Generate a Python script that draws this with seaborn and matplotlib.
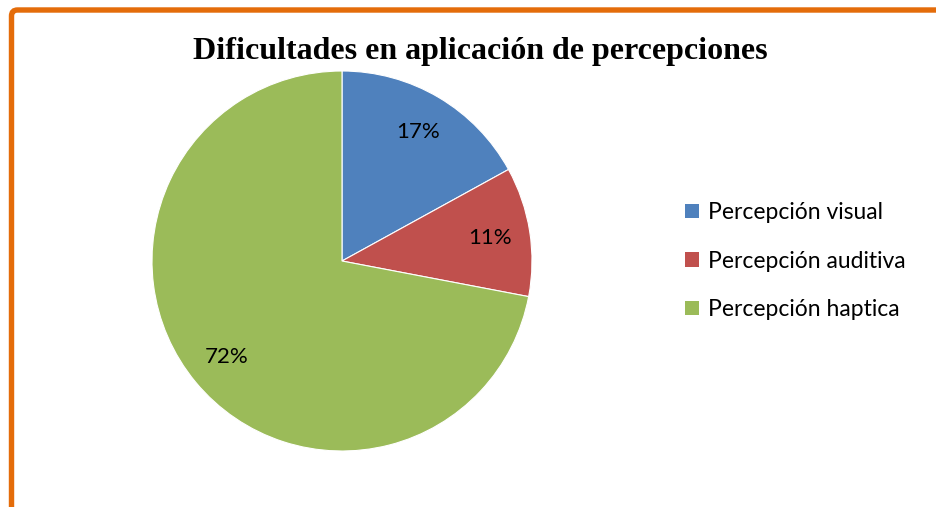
import matplotlib
matplotlib.use("Agg")
import matplotlib.pyplot as plt
import matplotlib.patches as mpatches
import seaborn as sns

categories = ["Percepción visual", "Percepción auditiva", "Percepción haptica"]
values = [17, 11, 72]
colors = ["#4F81BD", "#C0504D", "#9BBB59"]
title = "Dificultades en aplicación de percepciones"

sns.set_theme(style="white")
plt.rcParams['font.family'] = ['Lato', 'DejaVu Sans']
plt.rcParams['text.color'] = 'black'

W, H = 937, 507
fig = plt.figure(figsize=(W / 100, H / 100), dpi=100)
fig.patch.set_facecolor("white")

# pie axes: center (342,261), radius 190 px
ax = fig.add_axes([152 / W, (H - 451) / H, 380 / W, 380 / H])
wedges, texts, autotexts = ax.pie(
    values, colors=colors, startangle=90, counterclock=False,
    autopct=lambda p: f"{p:.0f}%", pctdistance=0.79,
    wedgeprops=dict(edgecolor="white", linewidth=0.8),
    textprops=dict(fontsize=16, color="black"))
ax.set_xlim(-1, 1)
ax.set_ylim(-1, 1)
ax.set_aspect("equal")
ax.axis("off")

fig.text(480 / W, 1 - 51 / H, title, ha="center", va="center", color="black",
         fontsize=23, fontweight="bold", family=["Liberation Serif"])

handles = [mpatches.Patch(facecolor=c, edgecolor="none") for c in colors]
leg = fig.legend(handles, categories, loc="center left",
                 bbox_to_anchor=(685 / W, 1 - 261 / H), frameon=False,
                 fontsize=16.5, handlelength=0.6, handleheight=0.6,
                 handletextpad=0.4, labelspacing=1.2, borderaxespad=0, borderpad=0)
for t in leg.get_texts():
    t.set_color("black")

# orange frame (only top and left visible)
frame = mpatches.FancyBboxPatch((11.5, -60), 1100, H - 10 + 60,
                                boxstyle="round,pad=0,rounding_size=6",
                                transform=None, facecolor="none",
                                edgecolor="#E46C0A", linewidth=3.9)
fig.add_artist(frame)

fig.savefig("out.png", dpi=100)
